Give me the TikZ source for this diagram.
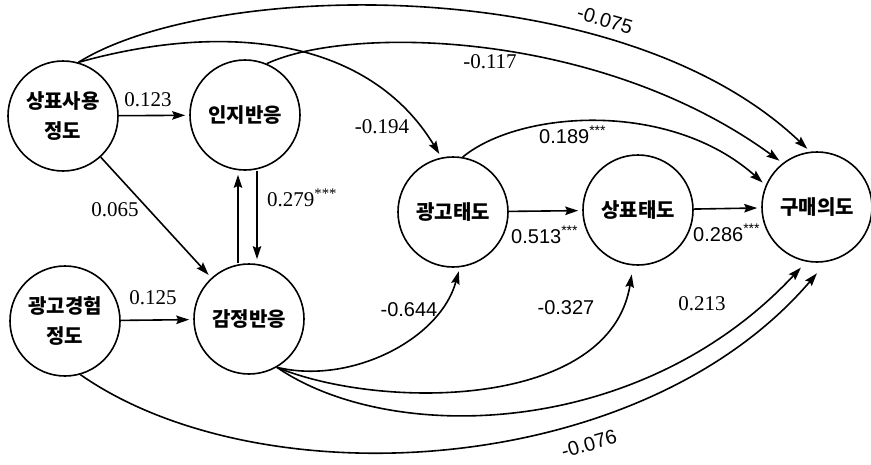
\documentclass[tikz,border=0pt]{standalone}
\usepackage{fontspec}
\setmainfont{Liberation Serif}
\newfontfamily\krfont{Noto Sans CJK KR}
\newfontfamily\lsans{Liberation Sans}
\usetikzlibrary{arrows.meta,calc}
\begin{document}
\begin{tikzpicture}[x=1pt,y=-1pt,
  var/.style={circle,draw,line width=1.6pt,minimum size=110pt,inner sep=0pt,
              font=\krfont\bfseries\fontsize{20}{30}\selectfont,align=center},
  arr/.style={line width=1.6pt,-{Stealth[length=13pt,width=8.5pt,inset=2pt]},shorten >=4pt},
  lbl/.style={font=\fontsize{21}{24}\selectfont,inner sep=1pt},
  slbl/.style={font=\lsans\fontsize{20}{24}\selectfont,inner sep=1pt}]
\useasboundingbox (0,0) rectangle (871,464);

% variables
\node[var] (A) at (63,116) {상표사용\\정도};
\node[var] (B) at (245,115) {인지반응};
\node[var] (C) at (65,321) {광고경험\\정도};
\node[var] (D) at (249,319) {감정반응};
\node[var] (E) at (453,212) {광고태도};
\node[var] (F) at (638,210) {상표태도};
\node[var] (G) at (817,207) {구매의도};

% straight paths
\draw[arr] (A) -- (B);
\draw[arr] (A) -- (D);
\draw[arr] (C) -- (D);
\draw[arr] (E) -- (F);
\draw[arr] (F) -- (G);
\draw[arr] ($(D.north)+(-11,0)$) -- ($(B.south)+(-7,0)$);
\draw[arr] ($(B.south)+(12,0)$) -- ($(D.north)+(8,0)$);

% curved paths
\draw[arr] (A.74) .. controls (210,-20) and (620,-30) .. (G.97);
\draw[arr] (B.67) .. controls (350,25) and (600,30) .. (G.128);
\draw[arr] (A.74) .. controls (230,20) and (370,40) .. (E.102);
\draw[arr] (E.80) .. controls (520,110) and (670,100) .. (G.157);
\draw[arr] (D.-60) .. controls (350,385) and (440,340) .. (E.-83);
\draw[arr,shorten >=9pt] (D.-60) .. controls (380,410) and (610,410) .. (F.-95);
\draw[arr,shorten >=8pt] (D.-60) .. controls (390,445) and (640,440) .. (G.-101);
\draw[arr,shorten >=15pt] (C.-74) .. controls (260,500) and (640,480) .. (G.-80);

% coefficients
\node[lbl] (l1) at (148,100) {0.123};
\node[lbl] (l2) at (115,210) {0.065};
\node[lbl,anchor=west] (l3) at (266,198) {0.279\textsuperscript{***}};
\node[lbl] (l4) at (153,298) {0.125};
\node[lbl] (l5) at (382,127) {-0.194};
\node[lbl] (l6) at (490,62) {-0.117};
\node[slbl,rotate=-16] (l7) at (605,20) {-0.075};
\node[slbl,anchor=west] (l8) at (538,135) {0.189\textsuperscript{***}};
\node[slbl,anchor=west] (l9) at (510,235) {0.513\textsuperscript{***}};
\node[slbl,anchor=west] (l10) at (692,233) {0.286\textsuperscript{***}};
\node[slbl] (l11) at (409,310) {-0.644};
\node[slbl] (l12) at (566,308) {-0.327};
\node[lbl] (l13) at (702,304) {0.213};
\node[slbl,rotate=16] (l14) at (589,444) {-0.076};
\end{tikzpicture}
\end{document}
